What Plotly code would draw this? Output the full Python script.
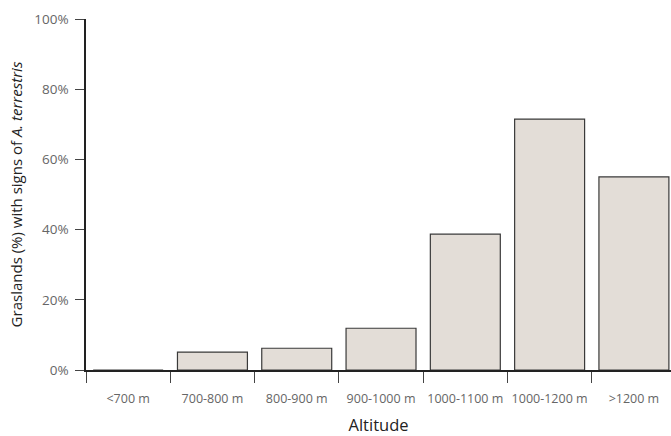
import plotly.graph_objects as go

categories = ["<700 m", "700-800 m", "800-900 m", "900-1000 m", "1000-1100 m", "1000-1200 m", ">1200 m"]
values = [0, 5.1, 6.2, 11.9, 38.7, 71.5, 55.0]
y_ticks = [0, 20, 40, 60, 80, 100]
y_tick_labels = ["0%", "20%", "40%", "60%", "80%", "100%"]

fig = go.Figure()
fig.add_trace(go.Bar(
    x=categories, y=values,
    marker=dict(color="#e3ddd7", line=dict(color="#3a3a3a", width=1.2)),
    width=0.83,
))

fig.update_layout(
    width=671, height=436,
    margin=dict(l=86, r=0, t=19, b=66),
    paper_bgcolor="white", plot_bgcolor="white",
    showlegend=False,
    font=dict(family="Open Sans", color="#222"),
    xaxis=dict(
        type="category",
        range=[-0.5, 6.44],
        automargin=False,
        tickson="boundaries",
        tickangle=0,
        ticks="outside", ticklen=11, tickwidth=1.2, tickcolor="#444",
        showline=True, linecolor="#222", linewidth=1.5,
        showgrid=False, zeroline=False,
        tickfont=dict(size=12.5, color="#666"),
        ticklabelstandoff=16,
        title=dict(text="Altitude", font=dict(size=16.5, color="#222"), standoff=23),
    ),
    yaxis=dict(
        range=[0, 100],
        automargin=False,
        tickvals=y_ticks, ticktext=y_tick_labels,
        ticks="outside", ticklen=9, tickwidth=1.2, tickcolor="#444",
        showline=True, linecolor="#222", linewidth=1.5,
        showgrid=False, zeroline=False,
        tickfont=dict(size=13.5, color="#666"),
        ticklabelstandoff=4,
        title=dict(text="Graslands (%) with signs of <i>A. terrestris</i>", font=dict(size=15, color="#222"), standoff=8),
    ),
)

fig.write_html(
    "out.html",
    config={"displayModeBar": False},
    post_script="document.body.style.margin='0';document.body.style.overflow='hidden';",
)
